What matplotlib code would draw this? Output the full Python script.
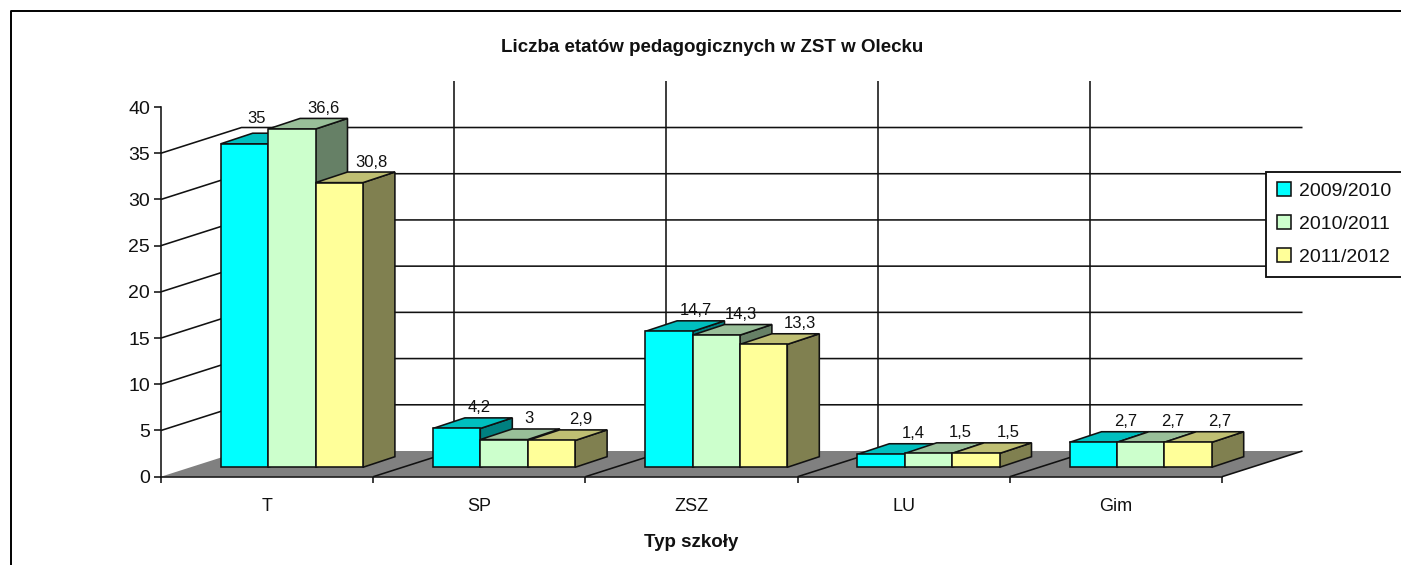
import matplotlib
matplotlib.use("Agg")
import matplotlib.pyplot as plt
from matplotlib.patches import Polygon, Patch
from matplotlib.lines import Line2D

# ---- data ----
categories = ["T", "SP", "ZSZ", "LU", "Gim"]
series_names = ["2009/2010", "2010/2011", "2011/2012"]
values_2009 = [35, 4.2, 14.7, 1.4, 2.7]
values_2010 = [36.6, 3, 14.3, 1.5, 2.7]
values_2011 = [30.8, 2.9, 13.3, 1.5, 2.7]
y_ticks = [0, 5, 10, 15, 20, 25, 30, 35, 40]

# ---- style ----
W, H = 1401, 565
plt.rcParams["font.family"] = ["Liberation Sans", "DejaVu Sans"]
INK = "#111111"
LW = 1.15
front = ["#00FFFF", "#CCFFCC", "#FFFF99"]
top = ["#00BFBF", "#99BF99", "#BFBF73"]
side = ["#008080", "#668066", "#808050"]
FLOOR = "#808080"

AX_L, AX_R, AX_BOT, AX_TOP = 161, 1222, 476.7, 107
fig = plt.figure(figsize=(W / 100, H / 100), dpi=100, facecolor="white")
ax = fig.add_axes([AX_L / W, 1 - AX_BOT / H, (AX_R - AX_L) / W, (AX_BOT - AX_TOP) / H])
ax.set_xlim(0, len(categories))
ax.set_ylim(0, 40)
ax.patch.set_alpha(0)

px_x = (AX_R - AX_L) / len(categories)      # pixels per category
px_y = (AX_BOT - AX_TOP) / 40               # pixels per value unit
WALL_DX, WALL_DY = 80.5 / px_x, 25.7 / px_y  # full depth of the plot box
BAR_DX, BAR_DY = 32 / px_x, 10.6 / px_y      # depth of a bar
BAR_LIFT = 9.4 / px_y                        # bar base above the front floor edge
BAR_START = 59.7 / px_x
BAR_W = 47.4 / px_x

def line(xs, ys, z=1, lw=LW):
    ax.plot(xs, ys, color=INK, lw=lw, zorder=z, clip_on=False, solid_capstyle="butt")

n = len(categories)
# floor
ax.add_patch(Polygon([(0, 0), (WALL_DX, WALL_DY), (n + WALL_DX, WALL_DY), (n, 0)],
                     closed=True, fc=FLOOR, ec="none", zorder=1, clip_on=False))
# wall gridlines
for v in y_ticks[1:-1]:
    line([0, WALL_DX, n + WALL_DX], [v, v + WALL_DY, v + WALL_DY], z=1.5)
for i in range(1, n):
    line([i, i + WALL_DX], [0, WALL_DY], z=1.5)
    line([i + WALL_DX, i + WALL_DX], [WALL_DY, 40 + WALL_DY], z=1.5)
line([n, n + WALL_DX], [0, WALL_DY], z=1.5)

# bars, painter's order from left to right
series = [values_2009, values_2010, values_2011]
z = 3.0
for c in range(n):
    for s, vals in enumerate(series):
        x0 = c + BAR_START + s * BAR_W
        x1 = x0 + BAR_W
        b = BAR_LIFT
        t = BAR_LIFT * 0 + vals[c] + BAR_LIFT * 0 + b * 0 + b
        t = vals[c] + b
        ax.add_patch(Polygon([(x1, b), (x1 + BAR_DX, b + BAR_DY), (x1 + BAR_DX, t + BAR_DY), (x1, t)],
                             closed=True, fc=side[s], ec=INK, lw=LW, zorder=z, clip_on=False))
        ax.add_patch(Polygon([(x0, t), (x0 + BAR_DX, t + BAR_DY), (x1 + BAR_DX, t + BAR_DY), (x1, t)],
                             closed=True, fc=top[s], ec=INK, lw=LW, zorder=z + 0.01, clip_on=False))
        ax.add_patch(Polygon([(x0, b), (x0, t), (x1, t), (x1, b)],
                             closed=True, fc=front[s], ec=INK, lw=LW, zorder=z + 0.02, clip_on=False))
        z += 0.1

# data labels
nudge_x = [[-20, 0, 0], [-9, -7, -3], [-5, -7, 4], [0, 0, 0], [0, 0, 0]]
nudge_y = [[-5, 0, 0], [0, 0, 0], [0, 0, 0], [0, 0, 0], [0, 0, 0]]
for c in range(n):
    for s, vals in enumerate(series):
        xc = c + BAR_START + (s + 0.5) * BAR_W + BAR_DX
        yt = vals[c] + BAR_LIFT + BAR_DY
        ax.annotate(f"{vals[c]:g}".replace(".", ","), (xc, yt),
                    xytext=(nudge_x[c][s] * 0.72, (10 - nudge_y[c][s]) * 0.72),
                    textcoords="offset points", ha="center", va="center",
                    fontsize=12, color=INK, zorder=20, annotation_clip=False)

# axes
for name in ("top", "right"):
    ax.spines[name].set_visible(False)
for name in ("left", "bottom"):
    ax.spines[name].set_linewidth(LW)
    ax.spines[name].set_color(INK)
    ax.spines[name].set_zorder(2.5)
ax.set_yticks(y_ticks)
ax.tick_params(axis="y", length=5, width=LW, color=INK, labelsize=14, labelcolor=INK, pad=3)
ax.set_xticks([i + 0.5 for i in range(n)])
ax.set_xticklabels(categories)
ax.set_xticks(range(n + 1), minor=True)
ax.tick_params(axis="x", which="major", length=0, labelsize=13, labelcolor=INK, pad=15)
ax.tick_params(axis="x", which="minor", length=4, width=LW, color=INK)
ax.set_xlabel("Typ szkoły", fontweight="bold", fontsize=13.5, color=INK, labelpad=14)

fig.text(712 / W, 1 - 48 / H, "Liczba etatów pedagogicznych w ZST w Olecku",
         ha="center", va="center", fontweight="bold", fontsize=13.5, color=INK)

# legend
handles = [Patch(fc=f, ec=INK, lw=LW) for f in front]
leg = ax.legend(handles, series_names, loc="upper left",
                bbox_to_anchor=(1266 / W, 1 - 171.7 / H), bbox_transform=fig.transFigure,
                fontsize=14, frameon=True, fancybox=False, framealpha=1, edgecolor=INK,
                handlelength=0.72, handleheight=0.72, handletextpad=0.45,
                labelspacing=0.78, borderpad=0.55, borderaxespad=0, labelcolor=INK)
leg.get_frame().set_linewidth(LW + 0.2)
leg.set_zorder(30)

# outer border: top and left only reach the picture edges
fig.add_artist(Line2D([10.5 / W, 10.5 / W, 1], [0, 1 - 11 / H, 1 - 11 / H],
                      color="#000000", lw=1.4, transform=fig.transFigure))

fig.savefig("out.png", dpi=100, facecolor="white")
